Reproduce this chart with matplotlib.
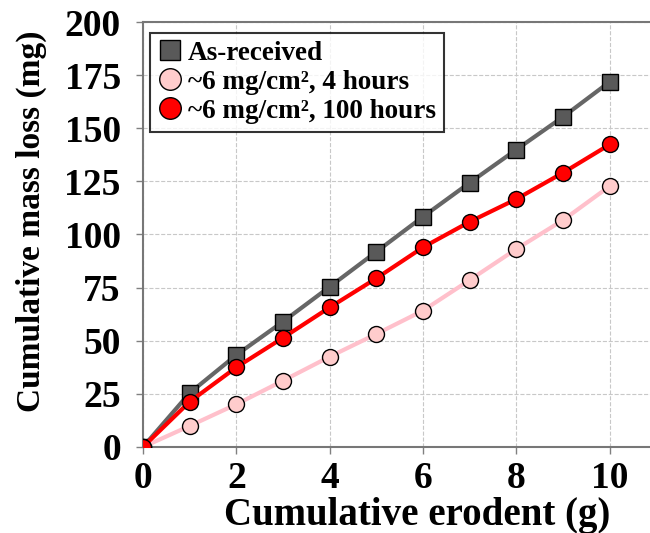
import numpy as np
import matplotlib.pyplot as plt

plt.rcParams['font.family'] = ['Liberation Serif', 'DejaVu Serif']
plt.rcParams['font.weight'] = 'bold'

erodent = [0, 1, 2, 3, 4, 5, 6, 7, 8, 9, 10]
as_received = [0, 25.4, 43.3, 59.0, 75.4, 91.9, 108.4, 124.4, 140.0, 155.4, 171.9]
h4 = [0, 9.9, 20.1, 31.2, 42.5, 53.2, 64.2, 78.6, 93.2, 106.8, 122.8]
h100 = [0, 21.3, 37.5, 51.4, 65.7, 79.4, 94.0, 106.0, 116.7, 129.1, 142.4]

fig = plt.figure(figsize=(6.5, 5.33), dpi=100)
ax = fig.add_axes([0.22, 0.1614, 0.78, 0.7973])

ax.plot(erodent, as_received, color='#666666', lw=3, marker='s', ms=11,
        mfc='#595959', mec='black', mew=1, label='As-received', zorder=3)
ax.plot(erodent, h4, color='#FFC0CB', lw=3, marker='o', ms=11.5,
        mfc='#FFCCCC', mec='black', mew=1, label='~6 mg/cm², 4 hours', zorder=3)
ax.plot(erodent, h100, color='#FF0000', lw=3, marker='o', ms=11.5,
        mfc='#FF0000', mec='black', mew=1, label='~6 mg/cm², 100 hours', zorder=4)

ax.set_xlim(0, 10.86)
ax.set_ylim(0, 200)
ax.set_xticks([0, 2, 4, 6, 8, 10])
ax.set_yticks(np.arange(0, 201, 25))
ax.grid(True, ls='--', color='#c8c8c8', lw=0.8)
ax.set_axisbelow(True)

for s in ['left', 'bottom', 'top']:
    ax.spines[s].set_color('#777777')
    ax.spines[s].set_linewidth(1.5)
ax.spines['right'].set_visible(False)
ax.tick_params(direction='out', color='#808080', width=1, length=5,
               labelsize=27)
ax.tick_params(axis='y', pad=11)
ax.tick_params(axis='x', pad=5)

ax.set_xlabel('Cumulative erodent (g)', fontsize=28, fontweight='bold')
ax.xaxis.set_label_coords(0.54, -0.118)
ax.set_ylabel('Cumulative mass loss (mg)', fontsize=24, fontweight='bold')
ax.yaxis.set_label_coords(-0.19, 0.532)

leg = ax.legend(loc='upper left', bbox_to_anchor=(0.013, 0.975), fontsize=19.5,
                frameon=True, fancybox=False, edgecolor='black',
                handlelength=0.9, handletextpad=0.2, borderpad=0.3,
                labelspacing=0.15, borderaxespad=0, markerscale=1.35)
leg.get_frame().set_linewidth(1.5)
for h in leg.legend_handles:
    h.set_linestyle('None')

fig.savefig('out.png', dpi=100)
